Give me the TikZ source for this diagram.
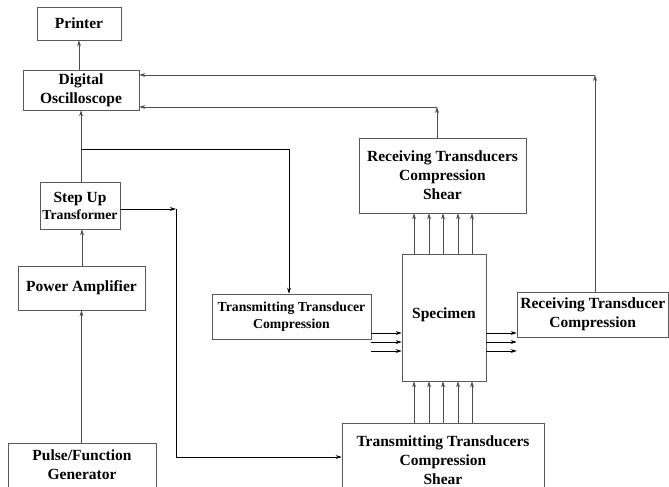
\documentclass[tikz,border=0pt]{standalone}
\usepackage{fontspec}
\setmainfont{Liberation Serif}
\usetikzlibrary{arrows.meta}
\begin{document}
\begin{tikzpicture}[x=1pt,y=-1pt,
  box/.style={draw=black!65,line width=0.6pt,align=center,inner sep=0pt,
    font=\fontsize{15.5}{19}\selectfont\bfseries},
  smallbox/.style={box,font=\fontsize{13.7}{16.5}\selectfont\bfseries},
  label/.style={align=center,inner sep=0pt,font=\fontsize{15.5}{19}\selectfont\bfseries},
  conn/.style={draw=black!70,line width=0.6pt},
  arr/.style={conn,-{Stealth[length=6pt,width=3.8pt]}}]
\useasboundingbox (0,0) rectangle (669,487);
\node[box,minimum width=84pt,minimum height=33pt] (printer) at (79,23.5) {Printer};
\node[box,minimum width=116pt,minimum height=40pt] (osc) at (81,90) {Digital\\Oscilloscope};
\node[box,minimum width=80pt,minimum height=47pt] (stepup) at (80,205.5) {Step Up\\[-2pt]{\fontsize{13.7}{16}\selectfont Transformer}};
\node[box,minimum width=127pt,minimum height=44pt] (power) at (81.5,288) {Power Amplifier};
\node[box,minimum width=148pt,minimum height=44pt] (pulse) at (82,465) {Pulse/Function\\Generator};
\node[smallbox,minimum width=159pt,minimum height=45pt] (ttc) at (291.5,316.5) {Transmitting Transducer\\Compression};
\node[box,minimum width=84pt,minimum height=127pt] (spec) at (444,317.5) {};
\node[label] (spectext) at (444,315) {Specimen};
\node[box,minimum width=167pt,minimum height=75pt] (rts) at (442.5,175.5) {Receiving Transducers\\Compression\\Shear};
\node[box,minimum width=151.5pt,minimum height=45pt] (rtc) at (592.75,314.5) {Receiving Transducer\\Compression};
\node[box,minimum width=202pt,minimum height=74pt] (tts) at (443,460) {Transmitting Transducers\\Compression\\Shear};
% coordinates
\coordinate (j1) at (81,149);
\coordinate (c1) at (289,149);
\coordinate (c2) at (176,209);
\coordinate (c2b) at (176,457);
\coordinate (c3) at (437,107);
\coordinate (c4) at (595,75);
% connectors
\draw[arr] (printer.south |- osc.north) -- (printer.south);
\draw[arr] (osc.south |- stepup.north) -- (osc.south);
\draw[arr,draw=black] (j1) -- (c1) -- (c1 |- ttc.north);
\draw[arr] ([xshift=2pt]stepup.south |- power.north) -- ([xshift=2pt]stepup.south);
\draw[arr] (power.south |- pulse.north) -- (power.south);
\draw[arr,draw=black] (stepup.east |- c2) -- (c2);
\draw[arr,draw=black] (c2) -- (c2b) -- (tts.west |- c2b);
\foreach \xx in {414,429,443,458,472}{
  \draw[arr] (\xx,0 |- spec.north) -- (\xx,0 |- rts.south);
  \draw[arr] (\xx,0 |- tts.north) -- (\xx,0 |- spec.south);
}
\foreach \yy in {333,342,351}{
  \draw[arr,draw=black] (ttc.east |- 0,\yy) -- (spec.west |- 0,\yy);
  \draw[arr,draw=black] (spec.east |- 0,\yy) -- (rtc.west |- 0,\yy);
}
\draw[arr] (c3 |- rts.north) -- (c3);
\draw[arr] (c3) -- (osc.east |- c3);
\draw[arr] (c4 |- rtc.north) -- (c4);
\draw[arr] (c4) -- (osc.east |- c4);
\end{tikzpicture}
\end{document}
